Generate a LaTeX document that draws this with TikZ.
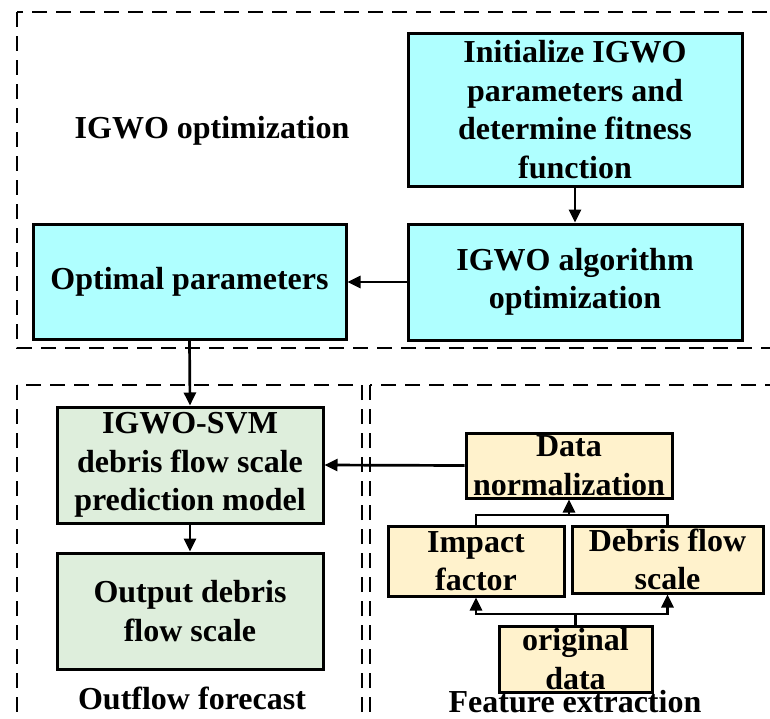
\documentclass[tikz,border=0pt]{standalone}
\usepackage{fontspec}
\setmainfont{Liberation Serif}
\usetikzlibrary{arrows.meta}
\definecolor{cyanfill}{RGB}{175,255,255}
\definecolor{greenfill}{RGB}{222,238,220}
\definecolor{yellowfill}{RGB}{255,242,204}
\tikzset{
  boxbase/.style={draw=black, line width=3pt, inner sep=0pt, align=center,
    font=\fontsize{32}{38.5}\selectfont\bfseries},
  cyanbox/.style={boxbase, fill=cyanfill},
  greenbox/.style={boxbase, fill=greenfill},
  yellowbox/.style={boxbase, fill=yellowfill},
  region/.style={draw=black, line width=2pt, dash pattern=on 15pt off 9pt},
  title/.style={inner sep=0pt, font=\fontsize{32}{38.5}\selectfont\bfseries},
  conn/.style={draw=black, line width=2.7pt},
  arr/.style={conn, -{Triangle[length=13pt,width=12pt]}}
}
\begin{document}
\begin{tikzpicture}[x=1pt,y=-1pt]
\clip (0,0) rectangle (770,718);
\fill[white] (0,0) rectangle (770,718);
% regions
\draw[region] (17,12) rectangle (800,348);
\draw[region] (17,385) rectangle (362,760);
\draw[region] (370,385) rectangle (800,760);
% titles
\node[title] (t1) at (212,131) {IGWO optimization};
\node[title] (t2) at (192,698) {Outflow forecast};
\node[title] (t3) at (575,702) {Feature extraction};
% boxes
\node[cyanbox, minimum width=334pt, minimum height=153pt] (init) at (575,109.5)
  {Initialize IGWO\\parameters and\\determine fitness\\function};
\node[cyanbox, minimum width=334pt, minimum height=116pt] (alg) at (575,282)
  {IGWO algorithm\\optimization};
\node[cyanbox, minimum width=313pt, minimum height=115pt] (opt) at (189.5,282)
  {Optimal parameters};
\node[greenbox, minimum width=266pt, minimum height=116pt] (svm) at (190,465)
  {IGWO-SVM\\debris flow scale\\prediction model};
\node[greenbox, minimum width=266pt, minimum height=116pt] (out) at (190,611)
  {Output debris\\flow scale};
\node[yellowbox, minimum width=206pt, minimum height=65pt] (norm) at (569,465.5)
  {Data\\normalization};
\node[yellowbox, minimum width=176pt, minimum height=70pt] (impact) at (476,561)
  {Impact\\factor};
\node[yellowbox, minimum width=191pt, minimum height=67pt] (dfs) at (667.5,559.5)
  {Debris flow\\scale};
\node[yellowbox, minimum width=153pt, minimum height=66pt] (orig) at (575.5,659)
  {original\\data};
% connectors
\draw[arr] (init) -- (alg);
\draw[arr] (alg.west) -- (opt.east);
\draw[arr] (opt.south) -- (svm.north);
\draw[arr] (norm.west) -- (svm.east);
\draw[arr] (svm) -- (out);
\coordinate (jtop) at (569,515);
\coordinate (jbot) at (575.5,614);
\draw[conn] (impact.north) |- (jtop) -| (dfs.north);
\draw[arr] (jtop) -- (norm.south);
\draw[conn] (orig.north) -- (jbot);
\draw[arr] (jbot) -| (impact.south);
\draw[arr] (jbot) -| (dfs.south);
\end{tikzpicture}
\end{document}
